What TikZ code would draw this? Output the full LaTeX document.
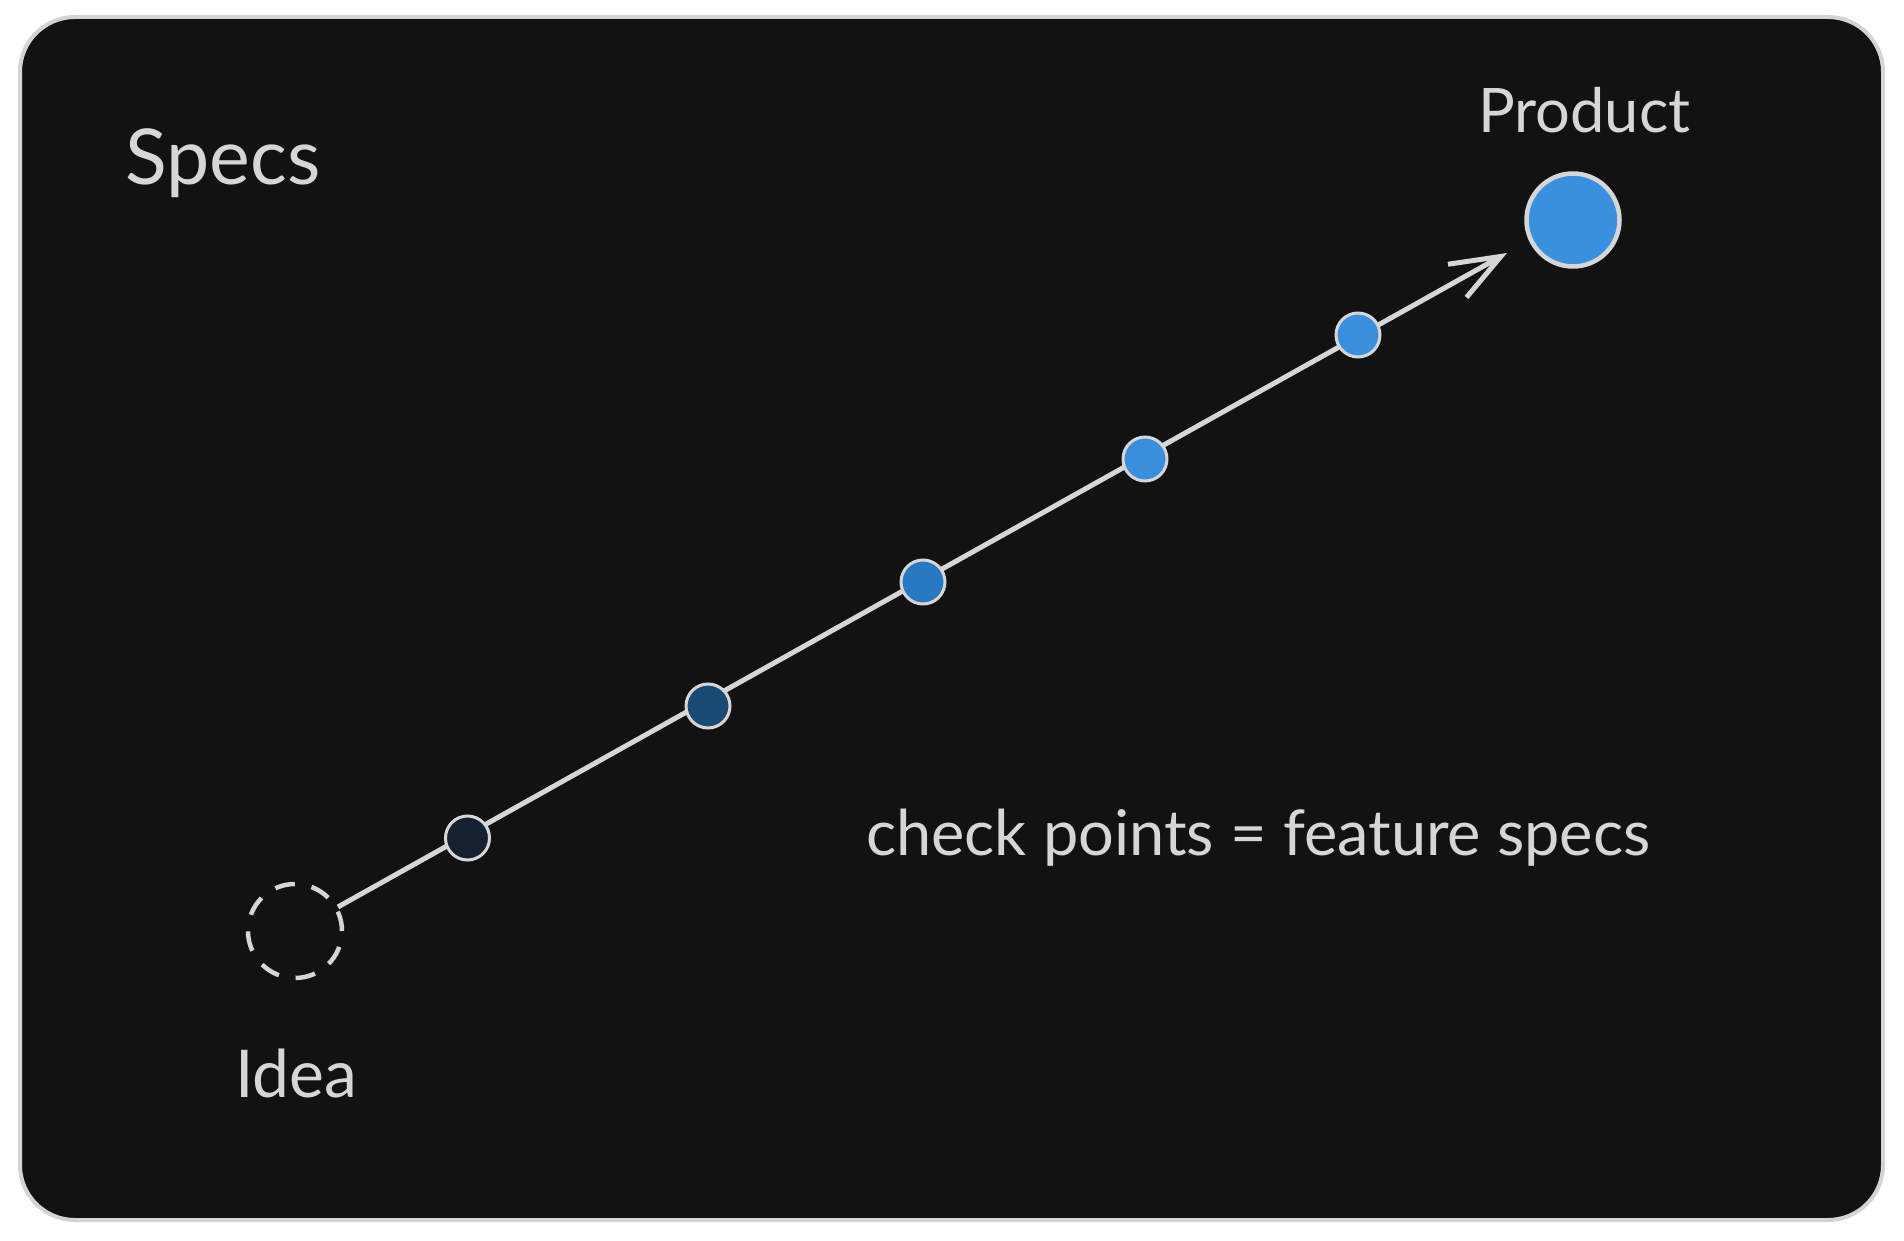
\documentclass[tikz,border=0pt]{standalone}
\usepackage{fontspec}
\setmainfont{Lato}
\usetikzlibrary{arrows.meta}
\definecolor{bg}{HTML}{121212}
\definecolor{ink}{HTML}{D6D6D6}
\definecolor{frame}{HTML}{D4D4D4}
\definecolor{cA}{HTML}{16212F}
\definecolor{cB}{HTML}{1B4A72}
\definecolor{cC}{HTML}{2878C2}
\definecolor{cD}{HTML}{3A8EDC}
\definecolor{cE}{HTML}{3A8FDE}
\tikzset{
  lbl/.style={inner sep=0pt, anchor=base west, text=ink},
  chk/.style={circle, draw=ink, line width=3pt, minimum size=44pt, inner sep=0pt},
}
\begin{document}
\begin{tikzpicture}[x=1pt,y=-1pt]
\useasboundingbox (0,0) rectangle (1904,1241);
\fill[white] (0,0) rectangle (1904,1241);
\draw[frame, fill=bg, line width=4pt, rounded corners=55pt] (20,17) rectangle (1883,1220);
% texts
\node[lbl] (specs) at (125,185) {\resizebox{195pt}{!}{Specs}};
\node[lbl] (productlbl) at (1478,133) {\resizebox{212pt}{!}{Product}};
\node[lbl] (idealbl) at (235,1097) {\resizebox{122pt}{!}{Idea}};
\node[lbl] (note) at (866,855) {\resizebox{784pt}{!}{check points = feature specs}};
% idea and product
\node[circle, draw=ink, line width=4.5pt, dash pattern=on 20pt off 17pt, minimum size=94pt, inner sep=0pt] (idea) at (295,931) {};
\node[circle, draw=ink, fill=cE, line width=4.5pt, minimum size=93pt, inner sep=0pt] (product) at (1573,220) {};
\coordinate (tip) at (1507,253);
\draw[ink, line width=5pt, -{Straight Barb[length=50pt, width=38pt, line width=5pt]}] (idea) -- (tip);
% check points
\node[chk, fill=cA] (d1) at (467.5,838) {};
\node[chk, fill=cB] (d2) at (708,706) {};
\node[chk, fill=cC] (d3) at (923,582) {};
\node[chk, fill=cD] (d4) at (1145,459) {};
\node[chk, fill=cE] (d5) at (1358,335) {};
\end{tikzpicture}
\end{document}
